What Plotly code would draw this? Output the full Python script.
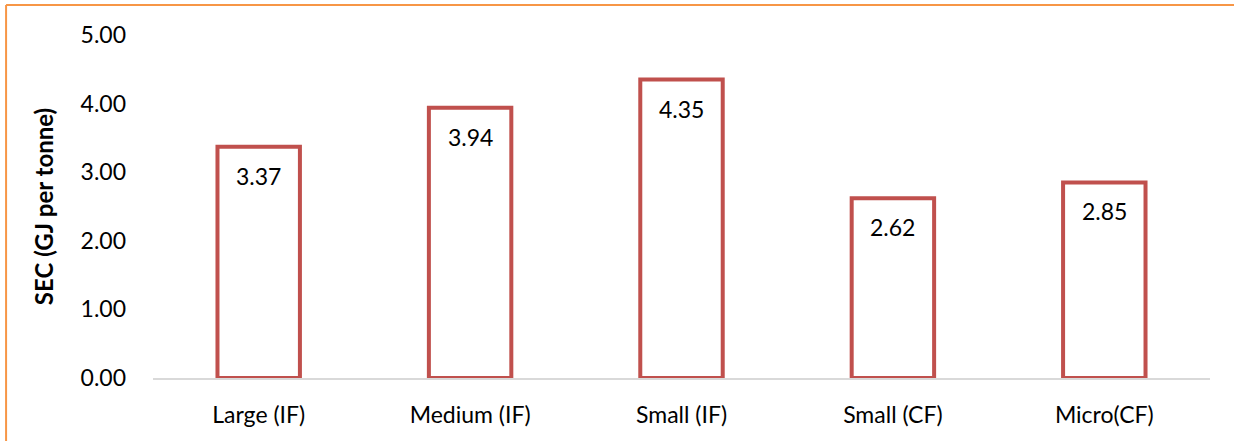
import plotly.graph_objects as go

# Specific energy consumption by unit category
categories = ["Large (IF)", "Medium (IF)", "Small (IF)", "Small (CF)", "Micro(CF)"]
sec_values = [3.37, 3.94, 4.35, 2.62, 2.85]
y_ticks = [0, 1, 2, 3, 4, 5]
y_tick_labels = ["0.00", "1.00", "2.00", "3.00", "4.00", "5.00"]

FONT = "Lato, 'Open Sans', sans-serif"
BAR_RED = "#C0504D"
FRAME_ORANGE = "#F79646"

fig = go.Figure()
fig.add_trace(go.Bar(
    x=categories,
    y=sec_values,
    width=0.39,
    marker=dict(color="white", line=dict(color=BAR_RED, width=4)),
    hoverinfo="x+y",
))

# value labels just inside the top of each bar
for cat, val in zip(categories, sec_values):
    fig.add_annotation(
        x=cat, y=val, text=f"{val:.2f}", showarrow=False,
        yanchor="top", yshift=-13,
        font=dict(family=FONT, size=23, color="black"),
    )

# chart frame (top and left edges)
fig.add_shape(type="line", xref="paper", yref="paper",
              x0=-0.139, x1=1.1, y0=1.0875, y1=1.0875,
              line=dict(color=FRAME_ORANGE, width=2))
fig.add_shape(type="line", xref="paper", yref="paper",
              x0=-0.139, x1=-0.139, y0=-0.3, y1=1.0875,
              line=dict(color=FRAME_ORANGE, width=2))

fig.update_layout(
    width=1234, height=441,
    margin=dict(l=153, r=24, t=35, b=63),
    paper_bgcolor="white", plot_bgcolor="white",
    showlegend=False,
    font=dict(family=FONT, size=23, color="black"),
    bargap=0.6,
)
fig.update_xaxes(
    showgrid=False, showline=True, linecolor="#D9D9D9", linewidth=2,
    ticks="", ticklabelstandoff=15,
    tickfont=dict(family=FONT, size=23),
)
fig.update_yaxes(
    range=[0, 5], tickvals=y_ticks, ticktext=y_tick_labels,
    showgrid=False, zeroline=False, showline=False, ticks="",
    ticklabelstandoff=26,
    tickfont=dict(family=FONT, size=23),
    title=dict(text="<b>SEC (GJ per tonne)</b>", standoff=20,
               font=dict(family=FONT, size=24)),
)

fig.write_html("out.html")
